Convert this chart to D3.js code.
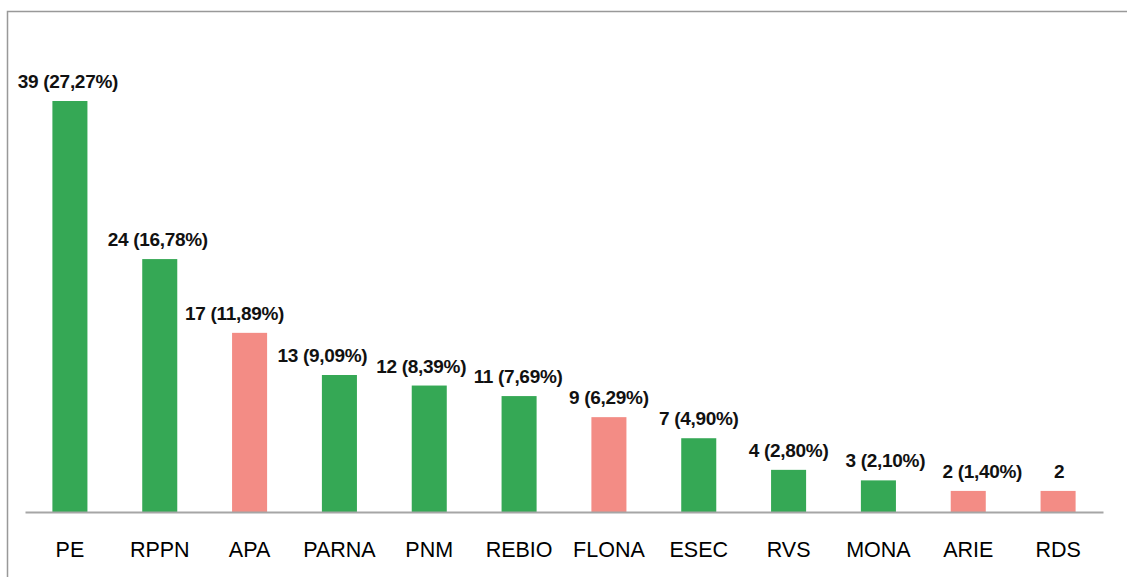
<!DOCTYPE html>
<html>
<head>
<meta charset="utf-8">
<script src="https://cdn.jsdelivr.net/npm/d3@7"></script>
<style>
  body { margin: 0; background: #fff; }
  svg { display: block; font-family: "Liberation Sans", Arial, sans-serif; }
</style>
</head>
<body>
<div id="chart"></div>
<script>
// Categories and values
var categories = ["PE", "RPPN", "APA", "PARNA", "PNM", "REBIO", "FLONA", "ESEC", "RVS", "MONA", "ARIE", "RDS"];
var counts = [39, 24, 17, 13, 12, 11, 9, 7, 4, 3, 2, 2];
var labels = ["39 (27,27%)", "24 (16,78%)", "17 (11,89%)", "13 (9,09%)", "12 (8,39%)", "11 (7,69%)",
	"9 (6,29%)", "7 (4,90%)", "4 (2,80%)", "3 (2,10%)", "2 (1,40%)", "2"];
// which group each bar belongs to (colour)
var groups = ["g", "g", "r", "g", "g", "g", "r", "g", "g", "g", "r", "r"];

var W = 1127, H = 577;
var margin = { top: 101, right: 24, bottom: 65, left: 25 };
var width = W - margin.left - margin.right,
	height = H - margin.top - margin.bottom;

var x = d3.scaleBand()
	.domain(categories)
	.range([0, width])
	.paddingInner(0.61)
	.paddingOuter(0.305);

var y = d3.scaleLinear()
	.domain([0, 39])
	.range([height, 0]);

var color = { g: "#35a855", r: "#f38c85" };

// labels were nudged sideways by hand in the original so they don't collide
var nudge = [-2, -2, -15, -17, -8, -1, 0, 0, 0, 7, 14, 1];

var svg = d3.select("#chart")
	.append("svg")
	.attr("width", W)
	.attr("height", H);

// outer frame
svg.append("rect")
	.attr("x", 7.5)
	.attr("y", 11.5)
	.attr("width", W + 10)
	.attr("height", H + 10)
	.attr("fill", "none")
	.attr("stroke", "#999")
	.attr("stroke-width", 1.5);

var g = svg.append("g")
	.attr("transform", "translate(" + margin.left + "," + margin.top + ")");

// bars
g.selectAll(".bar")
	.data(categories)
	.enter()
	.append("rect")
	.attr("class", "bar")
	.attr("x", function (d) { return x(d); })
	.attr("width", x.bandwidth())
	.attr("y", function (d, i) { return y(counts[i]); })
	.attr("height", function (d, i) { return height - y(counts[i]); })
	.attr("fill", function (d, i) { return color[groups[i]]; });

// value labels
g.selectAll(".val")
	.data(categories)
	.enter()
	.append("text")
	.attr("class", "val")
	.attr("x", function (d, i) { return x(d) + x.bandwidth() / 2 + nudge[i]; })
	.attr("y", function (d, i) { return y(counts[i]) - 13; })
	.attr("text-anchor", "middle")
	.style("font-size", "19px")
	.style("font-weight", "bold")
	.style("letter-spacing", "-0.3px")
	.attr("fill", "#111")
	.text(function (d, i) { return labels[i]; });

// x axis
var xAxis = g.append("g")
	.attr("transform", "translate(0," + height + ")")
	.call(d3.axisBottom(x).tickSize(0).tickPadding(30));

xAxis.select(".domain")
	.attr("stroke", "#a6a6a6")
	.attr("stroke-width", 2);

xAxis.selectAll("text")
	.style("font-size", "21.5px")
	.style("font-family", "\"Liberation Sans\", Arial, sans-serif")
	.attr("fill", "#000");
</script>
</body>
</html>
